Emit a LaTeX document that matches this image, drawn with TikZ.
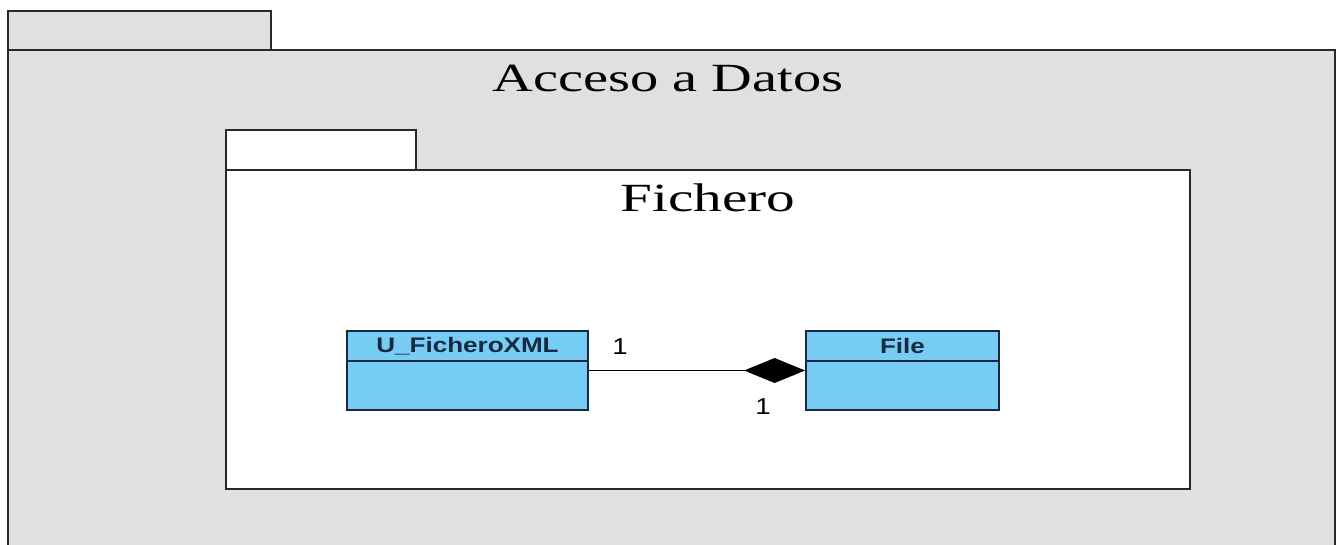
\documentclass[tikz,border=0pt]{standalone}
\usepackage{fontspec}
\setmainfont{Liberation Serif}
\newfontfamily\arialfont{Liberation Sans}
\usetikzlibrary{arrows.meta,positioning}
\definecolor{pkggray}{RGB}{224,224,224}
\definecolor{clsblue}{RGB}{118,204,242}
\definecolor{clsborder}{RGB}{22,40,66}
\definecolor{pkgline}{RGB}{40,40,40}
\tikzset{
  pkgbox/.style={draw=pkgline, line width=2.2pt, inner sep=0pt},
  clsbox/.style={draw=clsborder, fill=clsblue, line width=1.8pt, inner sep=0pt},
  clshdr/.style={draw=clsborder, line width=1.8pt, inner sep=0pt, minimum height=30pt,
    font=\arialfont\bfseries\fontsize{21}{24}\selectfont, text=clsborder},
  pkgtitle/.style={font=\fontsize{40}{46}\selectfont, text=black},
  mult/.style={font=\arialfont\fontsize{23}{26}\selectfont, inner sep=0pt},
  comp/.style={line width=1.9pt, -{Diamond[length=61pt,width=25pt]}}
}
\begin{document}
\begin{tikzpicture}[x=1pt,y=-1pt]
\useasboundingbox (0,0) rectangle (1338,544);
\fill[white] (0,0) rectangle (1338,544);
% outer package
\draw[pkgbox, fill=pkggray] (8,11) rectangle (271,50);
\draw[pkgbox, fill=pkggray] (8,50) rectangle (1335,548);
\node[pkgtitle] (outtitle) at (668,78) {\scalebox{1.41}[1]{Acceso a Datos}};
% inner package
\draw[pkgbox, fill=white] (226,130) rectangle (416,170);
\draw[pkgbox, fill=white] (226,170) rectangle (1190,489);
\node[pkgtitle] (intitle) at (708,198) {\scalebox{1.43}[1]{Fichero}};
% classes
\node[clsbox, minimum width=241pt, minimum height=79pt] (u) at (467.5,370.5) {};
\node[clshdr, minimum width=241pt, anchor=north] (uh) at (u.north) {\scalebox{1.24}[1]{U\_FicheroXML}};
\node[clsbox, minimum width=193pt, minimum height=79pt] (f) at (902.5,370.5) {};
\node[clshdr, minimum width=193pt, anchor=north] (fh) at (f.north) {\scalebox{1.24}[1]{File}};
% composition
\draw[comp] (u.east) -- (f.west);
\node[mult] (m1) at (620,347) {\scalebox{1.2}[1]{1}};
\node[mult] (m2) at (763,407) {\scalebox{1.2}[1]{1}};
\end{tikzpicture}
\end{document}
